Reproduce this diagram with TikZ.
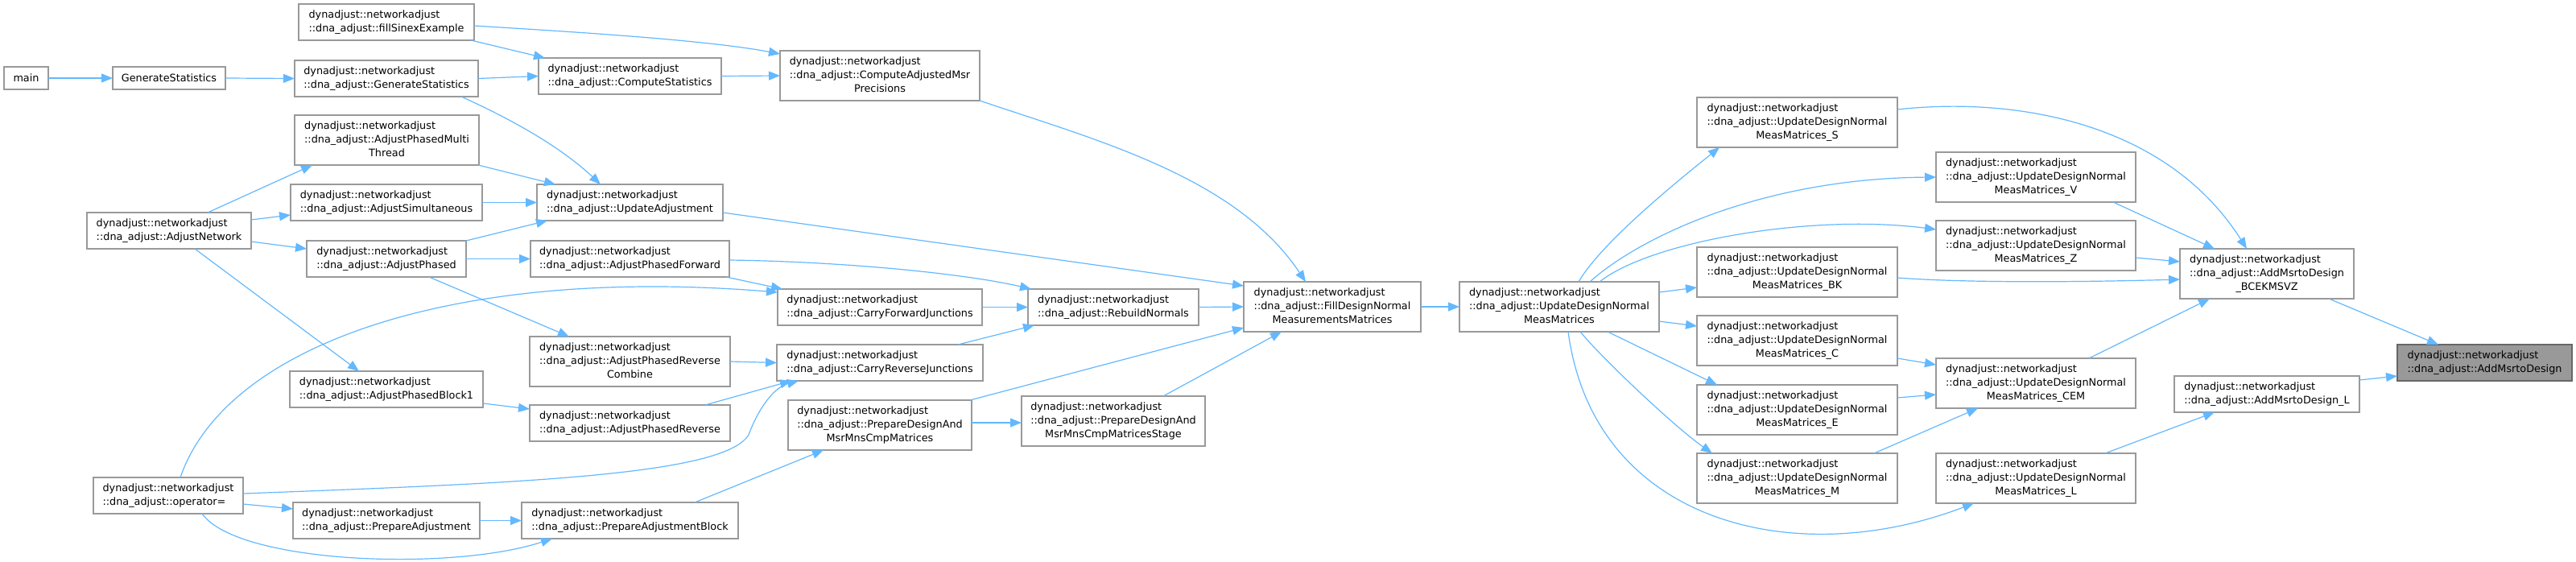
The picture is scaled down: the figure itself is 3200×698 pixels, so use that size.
\documentclass[tikz,border=0pt]{standalone}
\usepackage{fontspec}
\setmainfont{DejaVu Sans}
\usetikzlibrary{arrows.meta}
\definecolor{edgeblue}{HTML}{63B8FF}
\definecolor{boxgray}{HTML}{999999}
\definecolor{hlfill}{HTML}{999999}
\definecolor{hldraw}{HTML}{666666}
\newcommand{\LabTwo}[2]{\begin{tabular}{@{}l@{}}#1\\#2\end{tabular}}
\newcommand{\LabThree}[3]{\begin{tabular}{@{}l@{}}#1\\#2\\\multicolumn{1}{@{}c@{}}{#3}\end{tabular}}
\newcommand{\NA}{dynadjust::networkadjust}
\newcommand{\DA}{::dna\_adjust::}
\newcommand{\bx}[7][]{\node[box,#1,minimum width=#5pt,minimum height=#6pt] (#2) at (#3,#4) {#7};}
\begin{document}
\begin{tikzpicture}[x=1pt,y=-1pt,
 box/.style={draw=boxgray,fill=white,line width=1.3pt,inner sep=0pt,outer sep=0pt,anchor=north west,font=\fontsize{12.8pt}{16.7pt}\selectfont},
 hl/.style={draw=hldraw,fill=hlfill},
 edge/.style={draw=edgeblue,line width=1.2pt,-{Triangle[length=14pt,width=11pt]}}]
\useasboundingbox (0,0) rectangle (3200,698);
% nodes
\bx{main}{5}{83}{55}{28}{main}
\bx{GS}{140}{83}{140}{28}{GenerateStatistics}
\bx{fSE}{371}{5}{218}{45}{\LabTwo{\NA}{\DA fillSinexExample}}
\bx{dGS}{366}{75}{228}{45}{\LabTwo{\NA}{\DA GenerateStatistics}}
\bx{CS}{669}{72}{227}{45}{\LabTwo{\NA}{\DA ComputeStatistics}}
\bx{CAMP}{969}{63}{248}{62}{\LabThree{\NA}{\DA ComputeAdjustedMsr}{Precisions}}
\bx{APMT}{366}{143}{229}{62}{\LabThree{\NA}{\DA AdjustPhasedMulti}{Thread}}
\bx{AdjSim}{361}{229}{238}{45}{\LabTwo{\NA}{\DA AdjustSimultaneous}}
\bx{UpdAdj}{667}{229}{231}{45}{\LabTwo{\NA}{\DA UpdateAdjustment}}
\bx{AdjNet}{108}{264}{204}{45}{\LabTwo{\NA}{\DA AdjustNetwork}}
\bx{AdjPh}{381}{299}{198}{45}{\LabTwo{\NA}{\DA AdjustPhased}}
\bx{APF}{659}{299}{247}{45}{\LabTwo{\NA}{\DA AdjustPhasedForward}}
\bx{APRC}{658}{418}{249}{62}{\LabThree{\NA}{\DA AdjustPhasedReverse}{Combine}}
\bx{APB1}{360}{461}{240}{45}{\LabTwo{\NA}{\DA AdjustPhasedBlock1}}
\bx{APR}{658}{503}{249}{45}{\LabTwo{\NA}{\DA AdjustPhasedReverse}}
\bx{OpEq}{116}{593}{186}{45}{\LabTwo{\NA}{\DA operator=}}
\bx{PrepAdj}{364}{624}{232}{45}{\LabTwo{\NA}{\DA PrepareAdjustment}}
\bx{PAB}{648}{624}{269}{45}{\LabTwo{\NA}{\DA PrepareAdjustmentBlock}}
\bx{CFJ}{966}{359}{254}{45}{\LabTwo{\NA}{\DA CarryForwardJunctions}}
\bx{RBN}{1277}{359}{212}{45}{\LabTwo{\NA}{\DA RebuildNormals}}
\bx{FDN}{1545}{350}{220}{62}{\LabThree{\NA}{\DA FillDesignNormal}{MeasurementsMatrices}}
\bx{CRJ}{965}{428}{256}{45}{\LabTwo{\NA}{\DA CarryReverseJunctions}}
\bx{PDM}{979}{497}{228}{62}{\LabThree{\NA}{\DA PrepareDesignAnd}{MsrMnsCmpMatrices}}
\bx{PDMS}{1269}{492}{228}{62}{\LabThree{\NA}{\DA PrepareDesignAnd}{MsrMnsCmpMatricesStage}}
\bx{UDN}{1813}{350}{248}{62}{\LabThree{\NA}{\DA UpdateDesignNormal}{MeasMatrices}}
\bx{S}{2108}{121}{249}{62}{\LabThree{\NA}{\DA UpdateDesignNormal}{MeasMatrices\_S}}
\bx{V}{2405}{189}{248}{62}{\LabThree{\NA}{\DA UpdateDesignNormal}{MeasMatrices\_V}}
\bx{Z}{2405}{274}{248}{62}{\LabThree{\NA}{\DA UpdateDesignNormal}{MeasMatrices\_Z}}
\bx{BK}{2108}{307}{249}{62}{\LabThree{\NA}{\DA UpdateDesignNormal}{MeasMatrices\_BK}}
\bx{C}{2108}{392}{249}{62}{\LabThree{\NA}{\DA UpdateDesignNormal}{MeasMatrices\_C}}
\bx{CEM}{2405}{445}{248}{62}{\LabThree{\NA}{\DA UpdateDesignNormal}{MeasMatrices\_CEM}}
\bx{E}{2108}{478}{249}{62}{\LabThree{\NA}{\DA UpdateDesignNormal}{MeasMatrices\_E}}
\bx{M}{2108}{563}{249}{62}{\LabThree{\NA}{\DA UpdateDesignNormal}{MeasMatrices\_M}}
\bx{L}{2405}{563}{248}{62}{\LabThree{\NA}{\DA UpdateDesignNormal}{MeasMatrices\_L}}
\bx{BCE}{2708}{309}{216}{62}{\LabThree{\NA}{\DA AddMsrtoDesign}{\_BCEKMSVZ}}
\bx[hl]{AMD}{2978}{428}{217}{45}{\LabTwo{\NA}{\DA AddMsrtoDesign}}
\bx{AMDL}{2701}{467}{230}{45}{\LabTwo{\NA}{\DA AddMsrtoDesign\_L}}
% edges
\draw[edge] (main.east) -- (GS.west);
\draw[edge] (GS.east) -- (dGS.west);
\draw[edge] (dGS.east) -- (CS.west);
\draw[edge] ([shift={(207,45)}]dGS.north west) .. controls (635,148) and (696,182) .. ([shift={(79,0)}]UpdAdj.north west);
\draw[edge] ([shift={(214,45)}]fSE.north west) -- ([shift={(8,0)}]CS.north west);
\draw[edge] ([shift={(218,27)}]fSE.north west) .. controls (720,40) and (880,50) .. ([shift={(0,4)}]CAMP.north west);
\draw[edge] (CS.east) -- (CAMP.west);
\draw[edge] ([shift={(228,62)}]APMT.north west) -- ([shift={(23,0)}]UpdAdj.north west);
\draw[edge] (AdjSim.east) -- (UpdAdj.west);
\draw[edge] ([shift={(150,0)}]AdjNet.north west) -- ([shift={(22,62)}]APMT.north west);
\draw[edge] ([shift={(204,9)}]AdjNet.north west) -- ([shift={(0,38)}]AdjSim.north west);
\draw[edge] ([shift={(204,36)}]AdjNet.north west) -- ([shift={(0,10)}]AdjPh.north west);
\draw[edge] ([shift={(134,45)}]AdjNet.north west) -- ([shift={(86,0)}]APB1.north west);
\draw[edge] ([shift={(198,0)}]AdjPh.north west) -- ([shift={(13,45)}]UpdAdj.north west);
\draw[edge] (AdjPh.east) -- (APF.west);
\draw[edge] ([shift={(152,45)}]AdjPh.north west) -- ([shift={(49,0)}]APRC.north west);
\draw[edge] ([shift={(231,35)}]UpdAdj.north west) -- ([shift={(0,5)}]FDN.north west);
\draw[edge] ([shift={(248,62)}]CAMP.north west) .. controls (1365,175) and (1535,220) .. ([shift={(77,0)}]FDN.north west);
\draw[edge] ([shift={(247,24)}]APF.north west) .. controls (1050,325) and (1200,340) .. ([shift={(4,0)}]RBN.north west);
\draw[edge] ([shift={(243,45)}]APF.north west) -- ([shift={(6,0)}]CFJ.north west);
\draw[edge] ([shift={(108,0)}]OpEq.north west) .. controls (280,430) and (560,330) .. ([shift={(0,4)}]CFJ.north west);
\draw[edge] (CFJ.east) -- (RBN.west);
\draw[edge] ([shift={(225,0)}]CRJ.north west) -- ([shift={(8,45)}]RBN.north west);
\draw[edge] (RBN.east) -- (FDN.west);
\draw[edge] (APRC.east) -- (CRJ.west);
\draw[edge] ([shift={(218,0)}]APR.north west) -- ([shift={(18,45)}]CRJ.north west);
\draw[edge] ([shift={(186,20)}]OpEq.north west) .. controls (650,600) and (900,590) .. (930,540) .. controls (945,500) and (965,480) .. ([shift={(27,45)}]CRJ.north west);
\draw[edge] ([shift={(215,0)}]PAB.north west) -- ([shift={(44,62)}]PDM.north west);
\draw[edge] ([shift={(226,0)}]PDM.north west) -- ([shift={(0,57)}]FDN.north west);
\draw[edge] ([shift={(228,28)}]PDM.north west) -- ([shift={(0,33)}]PDMS.north west);
\draw[edge] ([shift={(176,0)}]PDMS.north west) -- ([shift={(47,62)}]FDN.north west);
\draw[edge] (FDN.east) -- (UDN.west);
\draw[edge] ([shift={(148,0)}]UDN.north west) .. controls (1990,300) and (2090,220) .. ([shift={(28,62)}]S.north west);
\draw[edge] ([shift={(162,0)}]UDN.north west) .. controls (2030,300) and (2180,222) .. ([shift={(0,31)}]V.north west);
\draw[edge] ([shift={(174,0)}]UDN.north west) .. controls (2050,300) and (2250,265) .. ([shift={(0,11)}]Z.north west);
\draw[edge] ([shift={(248,13)}]UDN.north west) -- ([shift={(0,50)}]BK.north west);
\draw[edge] ([shift={(248,49)}]UDN.north west) -- ([shift={(0,13)}]C.north west);
\draw[edge] ([shift={(184,62)}]UDN.north west) -- ([shift={(25,0)}]E.north west);
\draw[edge] ([shift={(150,62)}]UDN.north west) .. controls (1990,445) and (2080,530) .. ([shift={(19,0)}]M.north west);
\draw[edge] ([shift={(135,62)}]UDN.north west) .. controls (1980,650) and (2230,710) .. ([shift={(47,62)}]L.north west);
\draw[edge] ([shift={(249,53)}]C.north west) -- ([shift={(0,8)}]CEM.north west);
\draw[edge] ([shift={(249,16)}]E.north west) -- ([shift={(0,45)}]CEM.north west);
\draw[edge] ([shift={(220,0)}]M.north west) -- ([shift={(52,62)}]CEM.north west);
\draw[edge] ([shift={(249,15)}]S.north west) .. controls (2500,120) and (2690,150) .. ([shift={(83,0)}]BCE.north west);
\draw[edge] ([shift={(220,62)}]V.north west) -- ([shift={(43,0)}]BCE.north west);
\draw[edge] ([shift={(248,46)}]Z.north west) -- ([shift={(0,16)}]BCE.north west);
\draw[edge] ([shift={(249,38)}]BK.north west) .. controls (2450,352) and (2600,350) .. ([shift={(0,38)}]BCE.north west);
\draw[edge] ([shift={(190,0)}]CEM.north west) -- ([shift={(37,62)}]BCE.north west);
\draw[edge] ([shift={(185,62)}]BCE.north west) -- ([shift={(51,0)}]AMD.north west);
\draw[edge] ([shift={(210,0)}]L.north west) -- ([shift={(50,45)}]AMDL.north west);
\draw[edge] ([shift={(230,5)}]AMDL.north west) -- ([shift={(0,39)}]AMD.north west);
\draw[edge] ([shift={(240,40)}]APB1.north west) -- ([shift={(0,5)}]APR.north west);
\draw[edge] ([shift={(186,33)}]OpEq.north west) -- ([shift={(0,8)}]PrepAdj.north west);
\draw[edge] (PrepAdj.east) -- (PAB.west);
\draw[edge] ([shift={(135,45)}]OpEq.north west) .. controls (295,700) and (560,710) .. ([shift={(38,45)}]PAB.north west);
\end{tikzpicture}
\end{document}
